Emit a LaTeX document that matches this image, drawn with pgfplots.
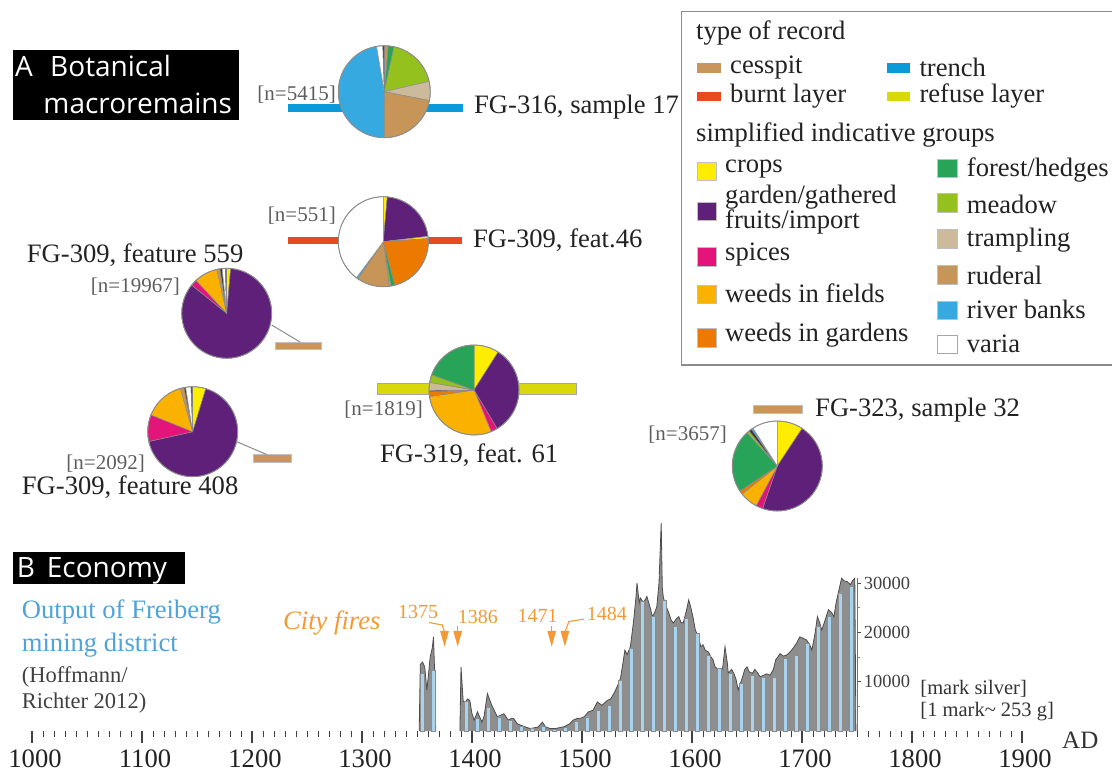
\documentclass[border=0pt]{standalone}
\usepackage{fontspec}
\setmainfont{Liberation Serif}
\newfontfamily\serifrm{Liberation Serif}
\newfontfamily\boxfont{Open Sans}
\usepackage{pgfplots}
\pgfplotsset{compat=1.18}
\definecolor{cesspit}{HTML}{C8955C}
\definecolor{trench}{HTML}{0A9AD9}
\definecolor{burnt}{HTML}{E54B1C}
\definecolor{refuse}{HTML}{D9D80B}
\definecolor{crops}{HTML}{FFED00}
\definecolor{garden}{HTML}{5E2079}
\definecolor{spices}{HTML}{E4157A}
\definecolor{wfields}{HTML}{FBB100}
\definecolor{wgardens}{HTML}{EC7A00}
\definecolor{forest}{HTML}{28A458}
\definecolor{meadow}{HTML}{95C11F}
\definecolor{trampling}{HTML}{CBBB9B}
\definecolor{ruderal}{HTML}{C69557}
\definecolor{river}{HTML}{36A9E1}
\definecolor{varia}{HTML}{FFFFFF}
\definecolor{darksl}{HTML}{3A3A3A}
\definecolor{slicegray}{HTML}{8C8C8C}
\definecolor{fireor}{HTML}{F39A35}
\definecolor{minebl}{HTML}{4EA3DB}
\definecolor{barbl}{HTML}{A9D3EC}
\definecolor{areagray}{HTML}{8E8E8E}
\definecolor{labgray}{HTML}{5E5E5E}
\definecolor{txt}{HTML}{222222}
\newcommand\lf{\serifrm\fontsize{26.6bp}{28bp}\selectfont}
\newcommand\brf{\serifrm\fontsize{21bp}{24bp}\selectfont}
\newcommand\smf{\serifrm\fontsize{22.5bp}{25bp}\selectfont}
\newcommand\rsf{\serifrm\fontsize{18.5bp}{20bp}\selectfont}
\newcommand\boxf{\boxfont\fontsize{28bp}{30bp}\selectfont}
% pie: centre x, centre y, radius, list of percent/colour clockwise from 12 o'clock
\newcommand{\piechart}[4]{%
  \gdef\pcum{0}%
  \foreach \pv/\pc in {#4}{%
    \pgfmathsetmacro\pa{90-3.6*\pcum}%
    \pgfmathsetmacro\pb{90-3.6*(\pcum+\pv)}%
    \edef\pcmd{\noexpand\filldraw[fill=\pc, draw=slicegray, line width=0.5bp] (axis cs:#1,#2) -- ++(\pa:#3bp) arc[start angle=\pa, end angle=\pb, radius=#3bp] -- cycle;}%
    \pcmd
    \pgfmathsetmacro\pn{\pcum+\pv}\global\let\pcum\pn
  }%
  \edef\pcmd{\noexpand\draw[slicegray, line width=0.9bp] (axis cs:#1,#2) circle[radius=#3bp];}\pcmd
}
\begin{document}
\begin{tikzpicture}[t/.style={inner sep=0pt, text=txt}]
\useasboundingbox (0,0) rectangle (1112bp,771bp);
% ---------------- canvas axis (pixel units, y downwards) ----------------
\begin{axis}[at={(0,0)}, anchor=south west, scale only axis, width=1112bp, height=771bp,
  xmin=0, xmax=1112, ymin=0, ymax=771, y dir=reverse, hide axis, clip=false]
% record-type bars
\fill[trench] (axis cs:288,104) rectangle (axis cs:463,112.3);
\fill[burnt] (axis cs:288,236.7) rectangle (axis cs:462,244.3);
\filldraw[fill=refuse, draw=black!35, line width=0.5bp] (axis cs:377,383.3) rectangle (axis cs:576,394);
\filldraw[fill=cesspit, draw=black!25, line width=0.4bp] (axis cs:275,341.7) rectangle (axis cs:320.7,349.3);
\filldraw[fill=cesspit, draw=black!25, line width=0.4bp] (axis cs:253.3,454.3) rectangle (axis cs:290.7,462.3);
\filldraw[fill=cesspit, draw=black!25, line width=0.4bp] (axis cs:753,405) rectangle (axis cs:802,413);
\draw[slicegray, line width=1bp] (axis cs:271.7,325) -- (axis cs:300,342);
\draw[slicegray, line width=1bp] (axis cs:236.7,441.7) -- (axis cs:266.7,454.5);
% pies
\piechart{384.3}{91.7}{46}{1.4/ruderal, 2/forest, 18/meadow, 6.7/trampling, 22/ruderal, 47.2/river, 2.2/varia, 0.5/darksl}
\piechart{383.3}{241.7}{45}{1.4/crops, 21.7/garden, 0.8/crops, 22/wgardens, 1.4/forest, 0.6/meadow, 11.7/ruderal, 0.6/river, 39.8/varia}
\piechart{226.7}{313.3}{45}{1.4/crops, 84.4/garden, 2.3/spices, 8.4/wfields, 1.1/ruderal, 0.8/darksl, 1.1/varia, 0.5/darksl}
\piechart{192.7}{431.7}{45}{4.7/crops, 66.8/garden, 9.6/spices, 14.5/wfields, 1.3/ruderal, 0.6/darksl, 1.9/varia, 0.6/darksl}
\piechart{474}{390}{45}{9/crops, 32.4/garden, 2.4/spices, 28.9/wfields, 1.7/wgardens, 0.5/darksl, 2.8/trampling, 2.8/meadow, 19.5/forest}
\piechart{777.3}{466}{45}{9.3/crops, 46/garden, 2.5/spices, 6.5/wfields, 1.3/wgardens, 22.7/forest, 0.9/meadow, 1.1/darksl, 0.6/river, 9.1/varia}
% pie labels
\node[t, anchor=west, font=\lf] at (axis cs:474,107) {FG-316, sample 17};
\node[t, anchor=east, font=\brf, text=labgray] at (axis cs:336,95) {[n=5415]};
\node[t, anchor=east, font=\brf, text=labgray] at (axis cs:336,216) {[n=551]};
\node[t, anchor=west, font=\lf] at (axis cs:473,240) {FG-309, feat.46};
\node[t, anchor=west, font=\lf] at (axis cs:26.7,255) {FG-309, feature 559};
\node[t, anchor=east, font=\brf, text=labgray] at (axis cs:180,286.7) {[n=19967]};
\node[t, anchor=east, font=\brf, text=labgray] at (axis cs:145,463.3) {[n=2092]};
\node[t, anchor=west, font=\lf] at (axis cs:21.7,486.7) {FG-309, feature 408};
\node[t, anchor=east, font=\brf, text=labgray] at (axis cs:423,410) {[n=1819]};
\node[t, anchor=west, font=\lf] at (axis cs:380,455) {FG-319, feat. 61};
\node[t, anchor=east, font=\brf, text=labgray] at (axis cs:727,435) {[n=3657]};
\node[t, anchor=west, font=\lf] at (axis cs:815,410) {FG-323, sample 32};
% section headers
\fill[black] (axis cs:12.7,50) rectangle (axis cs:239.3,120);
\node[inner sep=0pt, anchor=base west, text=white, font=\boxf] at (axis cs:15,77) {A};
\node[inner sep=0pt, anchor=base west, text=white, font=\boxf] at (axis cs:50,77) {Botanical};
\node[inner sep=0pt, anchor=base west, text=white, font=\boxf] at (axis cs:43.3,114) {macroremains};
\fill[black] (axis cs:12.7,551.7) rectangle (axis cs:185,584);
\node[inner sep=0pt, anchor=base west, text=white, font=\boxf] at (axis cs:16.7,577) {B};
\node[inner sep=0pt, anchor=base west, text=white, font=\boxf] at (axis cs:46.7,577) {Economy};
\node[t, anchor=west, font=\lf, text=minebl] at (axis cs:21.7,611.7) {Output of Freiberg};
\node[t, anchor=west, font=\lf, text=minebl] at (axis cs:21.7,645) {mining district};
\node[t, anchor=west, font=\smf, text=black!75] at (axis cs:21.7,677) {(Hoffmann/};
\node[t, anchor=west, font=\smf, text=black!75] at (axis cs:21.7,703) {Richter 2012)};
\node[t, anchor=west, font=\lf\itshape, text=fireor] at (axis cs:283,623) {City fires};
\node[t, anchor=west, font=\serifrm\fontsize{25bp}{27bp}\selectfont, text=black!80] at (axis cs:1062,740) {AD};
% legend
\draw[black!45, line width=1.2bp] (axis cs:681.7,11.7) rectangle (axis cs:1130,365);
\node[t, anchor=west, font=\lf] at (axis cs:696,33.3) {type of record};
\fill[cesspit] (axis cs:697.3,63.3) rectangle (axis cs:720.7,72.7);
\node[t, anchor=west, font=\lf] at (axis cs:730,67.3) {cesspit};
\fill[trench] (axis cs:886.7,63.3) rectangle (axis cs:910,72.7);
\node[t, anchor=west, font=\lf] at (axis cs:919.3,67.3) {trench};
\fill[burnt] (axis cs:697.3,92) rectangle (axis cs:720.7,101.4);
\node[t, anchor=west, font=\lf] at (axis cs:730,96) {burnt layer};
\fill[refuse] (axis cs:886.7,92) rectangle (axis cs:910,101.4);
\node[t, anchor=west, font=\lf] at (axis cs:919.3,96) {refuse layer};
\node[t, anchor=west, font=\lf] at (axis cs:696,135) {simplified indicative groups};
\filldraw[fill=crops, draw=black!25] (axis cs:697.3,161.7) rectangle (axis cs:716,180);
\node[t, anchor=west, font=\lf] at (axis cs:725,169.3) {crops};
\filldraw[fill=garden, draw=black!25] (axis cs:697.3,201.7) rectangle (axis cs:716,220);
\node[t, anchor=west, font=\lf] at (axis cs:725,197.3) {garden/gathered};
\node[t, anchor=west, font=\lf] at (axis cs:725,221.7) {fruits/import};
\filldraw[fill=spices, draw=black!25] (axis cs:697.3,247) rectangle (axis cs:716,266);
\node[t, anchor=west, font=\lf] at (axis cs:725,255) {spices};
\filldraw[fill=wfields, draw=black!25] (axis cs:697.3,285) rectangle (axis cs:716,303);
\node[t, anchor=west, font=\lf] at (axis cs:725,293.3) {weeds in fields};
\filldraw[fill=wgardens, draw=black!25] (axis cs:697.3,328) rectangle (axis cs:716,346.7);
\node[t, anchor=west, font=\lf] at (axis cs:725,335) {weeds in gardens};
\filldraw[fill=forest, draw=black!25] (axis cs:937.3,159) rectangle (axis cs:956.7,177);
\node[t, anchor=west, font=\lf] at (axis cs:966.7,170) {forest/hedges};
\filldraw[fill=meadow, draw=black!25] (axis cs:937.3,193) rectangle (axis cs:956.7,212);
\node[t, anchor=west, font=\lf] at (axis cs:966.7,204) {meadow};
\filldraw[fill=trampling, draw=black!25] (axis cs:937.3,229) rectangle (axis cs:956.7,248);
\node[t, anchor=west, font=\lf] at (axis cs:966.7,240) {trampling};
\filldraw[fill=ruderal, draw=black!25] (axis cs:937.3,265) rectangle (axis cs:956.7,284);
\node[t, anchor=west, font=\lf] at (axis cs:966.7,275) {ruderal};
\filldraw[fill=river, draw=black!25] (axis cs:937.3,300.7) rectangle (axis cs:956.7,319.3);
\node[t, anchor=west, font=\lf] at (axis cs:966.7,309.3) {river banks};
\filldraw[fill=varia, draw=black!35] (axis cs:937.3,335) rectangle (axis cs:956.7,353);
\node[t, anchor=west, font=\lf] at (axis cs:966.7,344.3) {varia};
\end{axis}
% ---------------- economy axis ----------------
\begin{axis}[at={(32bp,40bp)}, anchor=south west, scale only axis, width=990bp, height=221.85bp,
  xmin=1000, xmax=1900, ymin=0, ymax=45000, clip=false,
  hide y axis, axis x line*=bottom, x axis line style={draw=none},
  xtick={1000,1100,...,1900}, minor x tick num=9, tick align=outside,
  major tick length=12bp, minor tick length=6bp,
  major tick style={line width=1.3bp, color=black!75},
  minor tick style={line width=0.9bp, color=black!75},
  xticklabel style={font=\lf, text=txt, yshift=-3bp, xshift=3bp},
  /pgf/number format/set thousands separator={},
  /pgf/number format/assume math mode=true]
\addplot[fill=areagray, draw=black!70, line width=0.8bp] coordinates {
(1352,0) (1353,13500) (1355,14000) (1357,13000) (1359,8300) (1362,15000) (1364,17000) (1365,19100) (1366,12000) (1367,0)};
\addplot[fill=areagray, draw=black!70, line width=0.8bp] coordinates {
(1389,0) (1390,13000) (1392,6000) (1394,5900) (1396,6500) (1398,6200) (1400,3500) (1402,2200) (1405,3900) (1409,1800)
(1411,3000) (1414,7600) (1418,5200) (1423,2900) (1426,3200) (1429,3500) (1433,2200) (1436,2600) (1438,2500) (1441,1500)
(1444,1200) (1450,700) (1453,500) (1460,800) (1464,1800) (1467,800) (1471,500) (1476,500) (1480,700) (1484,900)
(1489,1500) (1492,2200) (1495,2500) (1499,2600) (1502,2900) (1506,3900) (1510,4200) (1514,5900) (1518,5200) (1523,6200)
(1526,6500) (1529,7600) (1532,9000) (1535,10700) (1537,13500) (1539,16400) (1541,15500) (1544,17100) (1547,22500) (1549,27000)
(1550,30000) (1552,26000) (1553,27000) (1556,26000) (1559,27300) (1562,25000) (1564,23200) (1566,24000) (1568,25200) (1570,30000)
(1572,42200) (1573,29000) (1574,27000) (1577,25000) (1579,23900) (1581,22500) (1583,21900) (1586,22800) (1588,23200) (1590,22000)
(1592,21900) (1595,24500) (1597,26600) (1599,25000) (1601,23000) (1603,20500) (1606,19000) (1608,17100) (1610,17500) (1612,16400)
(1615,16000) (1617,15100) (1619,14500) (1621,13000) (1624,12500) (1626,11700) (1628,13000) (1630,17100) (1632,14000) (1633,11700)
(1636,12500) (1638,11700) (1640,10500) (1642,8300) (1645,10300) (1648,12500) (1650,13000) (1652,12000) (1655,11700) (1657,12500)
(1659,12000) (1662,11000) (1665,11300) (1668,11600) (1671,11300) (1674,12500) (1676,14400) (1678,15000) (1680,15700) (1683,15200)
(1686,15400) (1689,16000) (1692,16800) (1695,17800) (1698,19100) (1701,18800) (1704,18500) (1707,17500) (1709,16400) (1712,20000)
(1714,23200) (1716,22000) (1718,20500) (1721,22500) (1724,24600) (1727,24000) (1729,23200) (1731,26000) (1733,28000) (1735,30000)
(1736,31000) (1738,30500) (1741,30300) (1744,29700) (1746,30500) (1748,31000) (1749,0)};
\addplot[ybar, bar width=3.6, fill=barbl, draw=black!45, line width=0.4bp] coordinates {
(1355,11700) (1365,12400) (1395,6000) (1405,2500) (1415,4800) (1425,2900) (1435,2200) (1445,1000) (1455,500) (1465,900)
(1475,400) (1485,700) (1495,1900) (1505,2900) (1515,4200) (1525,5200) (1535,10300) (1545,16800) (1555,26300) (1565,23200)
(1575,26600) (1585,21200) (1595,22900) (1605,19800) (1615,15400) (1625,12700) (1635,11700) (1645,9600) (1655,11300) (1665,11000)
(1675,11000) (1685,14700) (1695,15400) (1705,17800) (1715,21200) (1725,23200) (1735,28000) (1745,29300)};
% right-hand value scale
\draw[black!55, line width=0.6bp] (axis cs:1750.5,0) -- (axis cs:1750.5,31000);
\draw[black!70, line width=1bp] (axis cs:1750.5,10000) -- (axis cs:1753.5,10000);
\draw[black!70, line width=1bp] (axis cs:1750.5,20000) -- (axis cs:1753.5,20000);
\draw[black!70, line width=1bp] (axis cs:1750.5,30000) -- (axis cs:1753.5,30000);
\draw[black!50, line width=0.7bp] (axis cs:1750.5,5000) -- (axis cs:1752.5,5000);
\draw[black!50, line width=0.7bp] (axis cs:1750.5,15000) -- (axis cs:1752.5,15000);
\draw[black!50, line width=0.7bp] (axis cs:1750.5,25000) -- (axis cs:1752.5,25000);
\node[inner sep=0pt, anchor=west, font=\rsf, text=black!75] at (axis cs:1756,10000) {10000};
\node[inner sep=0pt, anchor=west, font=\rsf, text=black!75] at (axis cs:1756,20000) {20000};
\node[inner sep=0pt, anchor=west, font=\rsf, text=black!75] at (axis cs:1756,30000) {30000};
\node[inner sep=0pt, anchor=west, font=\serifrm\fontsize{20.5bp}{22bp}\selectfont, text=black!80] at (axis cs:1807.5,8660) {[mark silver]};
\node[inner sep=0pt, anchor=west, font=\serifrm\fontsize{20.5bp}{22bp}\selectfont, text=black!80] at (axis cs:1807.5,3910) {[1 mark\textasciitilde{} 253 g]};
% city fires
\draw[fireor, line width=1.1bp] (axis cs:1361,22000) -- (axis cs:1373,21500) -- (axis cs:1375,20000);
\fill[fireor] (axis cs:1371,20300) -- (axis cs:1379,20300) -- (axis cs:1375,17100) -- cycle;
\draw[fireor, line width=1.1bp] (axis cs:1387,21300) -- (axis cs:1387,20000);
\fill[fireor] (axis cs:1383,20300) -- (axis cs:1391,20300) -- (axis cs:1387,17100) -- cycle;
\draw[fireor, line width=1.1bp] (axis cs:1472.5,21300) -- (axis cs:1472.5,20000);
\fill[fireor] (axis cs:1468.5,20300) -- (axis cs:1476.5,20300) -- (axis cs:1472.5,17100) -- cycle;
\draw[fireor, line width=1.1bp] (axis cs:1502,22700) -- (axis cs:1488,22200) -- (axis cs:1484.5,20000);
\fill[fireor] (axis cs:1480.5,20300) -- (axis cs:1488.5,20300) -- (axis cs:1484.5,17100) -- cycle;
\node[inner sep=0pt, font=\serifrm\fontsize{20bp}{22bp}\selectfont, text=fireor] at (axis cs:1351,24200) {1375};
\node[inner sep=0pt, font=\serifrm\fontsize{20bp}{22bp}\selectfont, text=fireor] at (axis cs:1405.3,23200) {1386};
\node[inner sep=0pt, font=\serifrm\fontsize{20bp}{22bp}\selectfont, text=fireor] at (axis cs:1459.6,23300) {1471};
\node[inner sep=0pt, font=\serifrm\fontsize{20bp}{22bp}\selectfont, text=fireor] at (axis cs:1522.7,23700) {1484};
\end{axis}
\end{tikzpicture}
\end{document}
